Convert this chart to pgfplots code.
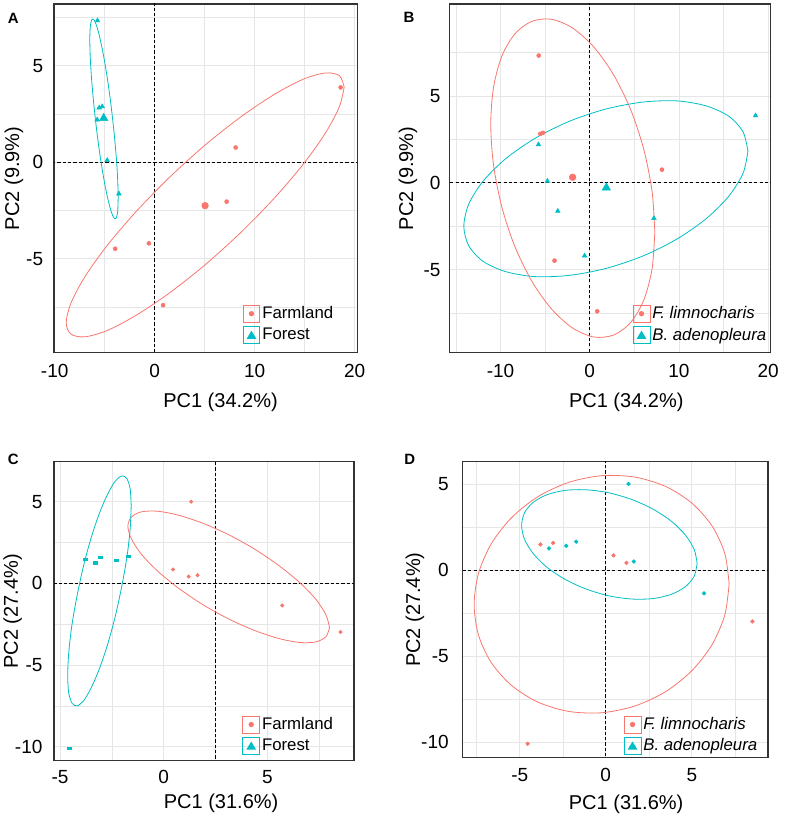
\documentclass[border=0pt]{standalone}
\usepackage{fontspec}
\setmainfont{Liberation Sans}
\usepackage{pgfplots}
\pgfplotsset{compat=1.18}
\definecolor{cRed}{HTML}{F8766D}
\definecolor{cTeal}{HTML}{00BFC4}
\definecolor{gridc}{HTML}{E6E6E6}
\pgfplotsset{
  pca/.style={scale only axis, anchor=north west, grid=both,
    major tick length=0pt, minor tick length=0pt,
    axis line style={draw=black!80, line width=0.8pt},
    major grid style={draw=gridc, line width=0.6pt},
    minor grid style={draw=gridc, line width=0.35pt},
    ticklabel style={font=\fontsize{14.25}{16}\selectfont},
    xticklabel style={anchor=base},
    yticklabel style={anchor=east, inner sep=0pt},
    label style={font=\fontsize{15}{18}\selectfont},
    xlabel style={anchor=base},
    ylabel style={anchor=center},
    legend cell align=left,
    legend style={draw=none, fill=none, inner sep=0pt, outer sep=0pt, row sep=2.8pt,
      nodes={inner sep=0pt}, font=\fontsize{12.6}{15}\selectfont, anchor=north west},
  },
  ell/.style={forget plot, smooth, line width=0.6pt, mark=none},
  dsh/.style={forget plot, black, line width=0.6pt, dash pattern=on 2.4pt off 1.6pt},
  redkey/.style={legend image code/.code={%
    \draw[draw=cRed, fill=none, solid, line width=0.6pt, mark=none] (0pt,-6.3pt) rectangle (12.6pt,6.3pt);
    \fill[fill=cRed, draw=none, mark=none] (6.3pt,0pt) circle (2pt);
    \path[draw=none, fill=none, mark=none] (0pt,0pt) -- (14.4pt,0pt);}},
  tealkey/.style={legend image code/.code={%
    \draw[draw=cTeal, fill=none, solid, line width=0.6pt, mark=none] (0pt,-6.3pt) rectangle (12.6pt,6.3pt);
    \fill[fill=cTeal, draw=none, mark=none] (6.3pt,3.3pt) -- (10pt,-2.9pt) -- (2.6pt,-2.9pt) -- cycle;
    \path[draw=none, fill=none, mark=none] (0pt,0pt) -- (14.4pt,0pt);}},
}
\begin{document}
\begin{tikzpicture}
\path[use as bounding box] (0,0) rectangle (589.5pt,-612pt);

% ---------------- Panel A ----------------
\begin{axis}[pca, at={(40.5pt,-3pt)}, width=227.5pt, height=261.5pt,
  xmin=-10.07, xmax=20.27, ymin=-9.86, ymax=8.19,
  xtick={-10,0,10,20}, xticklabels={-10,0,10,20}, minor xtick={-5,5,15},
  ytick={-5,0,5}, yticklabels={-5,0,5}, minor ytick={-7.5,-2.5,2.5,7.5},
  xticklabel style={yshift=-19pt}, yticklabel style={xshift=-8pt},
  xlabel={PC1 (34.2\%)}, ylabel={PC2 (9.9\%)},
  xlabel style={at={(axis description cs:0.549,-0.1586)}},
  ylabel style={at={(axis description cs:-0.132,0.5)}},
  legend style={at={(0.622,0.137)}}]
\addplot[dsh] coordinates {(0,-30) (0,30)};
\addplot[dsh] coordinates {(-30,0) (30,0)};
\addplot[ell, cRed] coordinates {(18.95,3.89) (18.48,4.48) (17.09,4.62) (14.88,4.30) (12.0,3.52) (8.65,2.36) (5.05,0.89) (1.45,-0.80) (-1.90,-2.58) (-4.78,-4.33) (-6.99,-5.94) (-8.38,-7.30) (-8.85,-8.31) (-8.38,-8.90) (-6.99,-9.04) (-4.78,-8.72) (-1.90,-7.94) (1.45,-6.78) (5.05,-5.31) (8.65,-3.62) (12.0,-1.84) (14.88,-0.09) (17.09,1.52) (18.48,2.88) (18.95,3.89)};
\addplot[ell, cTeal] coordinates {(-3.65,-1.86) (-3.70,-0.91) (-3.84,0.26) (-4.07,1.57) (-4.36,2.92) (-4.70,4.22) (-5.07,5.39) (-5.44,6.34) (-5.78,7.02) (-6.07,7.37) (-6.30,7.37) (-6.44,7.02) (-6.49,6.34) (-6.44,5.39) (-6.30,4.22) (-6.07,2.91) (-5.78,1.56) (-5.44,0.26) (-5.07,-0.91) (-4.70,-1.86) (-4.36,-2.54) (-4.07,-2.89) (-3.84,-2.89) (-3.70,-2.54) (-3.65,-1.86)};
\addplot[forget plot, only marks, mark=*, mark size=1.5pt, cRed] coordinates {(18.6,3.87) (8.1,0.76) (7.2,-2.04) (-0.58,-4.2) (-3.95,-4.48) (0.84,-7.4)};
\addplot[forget plot, only marks, mark=*, mark size=2.5pt, cRed] coordinates {(5.04,-2.25)};
\addplot[forget plot, only marks, mark=triangle*, mark size=2pt, cTeal] coordinates {(-5.72,7.33) (-5.55,2.82) (-5.25,2.88) (-5.75,2.2) (-4.75,0.1) (-3.58,-1.63)};
\addplot[forget plot, only marks, mark=triangle*, mark size=3.6pt, cTeal] coordinates {(-5.1,2.28)};
\addlegendimage{redkey}\addlegendentry{Farmland}
\addlegendimage{tealkey}\addlegendentry{Forest}
\end{axis}

% ---------------- Panel B ----------------
\begin{axis}[pca, at={(337.3pt,-3pt)}, width=240.75pt, height=261.5pt,
  xmin=-15.7, xmax=20.3, ymin=-9.78, ymax=10.3,
  xtick={-10,0,10,20}, xticklabels={-10,0,10,20}, minor xtick={-15,-5,5,15},
  ytick={-5,0,5}, yticklabels={-5,0,5}, minor ytick={-7.5,-2.5,2.5,7.5},
  xticklabel style={yshift=-18.75pt}, yticklabel style={xshift=-6.75pt},
  xlabel={PC1 (34.2\%)}, ylabel={PC2 (9.9\%)},
  xlabel style={at={(axis description cs:0.550,-0.1586)}},
  ylabel style={at={(axis description cs:-0.130,0.5)}},
  legend style={at={(0.570,0.137)}}]
\addplot[dsh] coordinates {(0,-30) (0,30)};
\addplot[dsh] coordinates {(-30,0) (30,0)};
\addplot[ell, cRed] coordinates {(7.30,-2.83) (6.99,-0.49) (6.07,1.91) (4.61,4.19) (2.70,6.20) (0.48,7.81) (-1.90,8.91) (-4.28,9.42) (-6.50,9.30) (-8.41,8.57) (-9.87,7.28) (-10.79,5.50) (-11.10,3.37) (-10.79,1.03) (-9.87,-1.37) (-8.41,-3.65) (-6.50,-5.66) (-4.28,-7.27) (-1.90,-8.37) (0.48,-8.88) (2.70,-8.76) (4.61,-8.03) (6.07,-6.74) (6.99,-4.96) (7.30,-2.83)};
\addplot[ell, cTeal] coordinates {(17.74,1.82) (17.20,2.93) (15.61,3.83) (13.07,4.43) (9.78,4.72) (5.93,4.65) (1.81,4.25) (-2.31,3.54) (-6.15,2.56) (-9.45,1.38) (-11.99,0.08) (-13.58,-1.24) (-14.12,-2.50) (-13.58,-3.61) (-11.99,-4.51) (-9.45,-5.11) (-6.16,-5.40) (-2.31,-5.33) (1.81,-4.93) (5.93,-4.22) (9.77,-3.24) (13.07,-2.06) (15.61,-0.76) (17.20,0.56) (17.74,1.82)};
\addplot[forget plot, only marks, mark=*, mark size=1.5pt, cRed] coordinates {(8.1,0.76) (-3.95,-4.48) (0.84,-7.4) (-5.72,7.33) (-5.55,2.82) (-5.25,2.88)};
\addplot[forget plot, only marks, mark=*, mark size=2.5pt, cRed] coordinates {(-1.92,0.32)};
\addplot[forget plot, only marks, mark=triangle*, mark size=2pt, cTeal] coordinates {(18.6,3.87) (7.2,-2.04) (-0.58,-4.2) (-5.75,2.2) (-4.75,0.1) (-3.58,-1.63)};
\addplot[forget plot, only marks, mark=triangle*, mark size=3.6pt, cTeal] coordinates {(1.86,-0.28)};
\addlegendimage{redkey}\addlegendentry{\textit{F. limnocharis}}
\addlegendimage{tealkey}\addlegendentry{\textit{B. adenopleura}}
\end{axis}

% ---------------- Panel C ----------------
\begin{axis}[pca, at={(40.5pt,-346.3pt)}, width=225pt, height=224.25pt,
  xmin=-5.29, xmax=9.17, ymin=-10.86, ymax=7.45,
  xtick={-5,0,5}, xticklabels={-5,0,5}, minor xtick={-2.5,2.5,7.5},
  ytick={-10,-5,0,5}, yticklabels={-10,-5,0,5}, minor ytick={-7.5,-2.5,2.5},
  xticklabel style={yshift=-17pt}, yticklabel style={xshift=-8.5pt},
  xlabel={PC1 (31.6\%)}, ylabel={PC2 (27.4\%)},
  xlabel style={at={(axis description cs:0.557,-0.161)}},
  ylabel style={at={(axis description cs:-0.138,0.5)}},
  legend style={at={(0.628,0.1505)}}]
\addplot[dsh] coordinates {(2.5,-30) (2.5,30)};
\addplot[dsh] coordinates {(-30,0) (30,0)};
\addplot[ell, cRed] coordinates {(7.99,-2.70) (7.82,-1.93) (7.34,-0.99) (6.57,0.03) (5.56,1.08) (4.39,2.09) (3.13,2.98) (1.87,3.69) (0.70,4.18) (-0.31,4.42) (-1.08,4.38) (-1.56,4.06) (-1.73,3.50) (-1.56,2.73) (-1.08,1.79) (-0.31,0.77) (0.70,-0.28) (1.87,-1.29) (3.13,-2.18) (4.39,-2.89) (5.56,-3.38) (6.57,-3.62) (7.34,-3.58) (7.82,-3.26) (7.99,-2.70)};
\addplot[ell, cTeal] coordinates {(-1.57,4.74) (-1.62,5.79) (-1.78,6.42) (-2.02,6.58) (-2.34,6.26) (-2.70,5.48) (-3.10,4.30) (-3.50,2.79) (-3.87,1.06) (-4.18,-0.77) (-4.43,-2.58) (-4.58,-4.25) (-4.63,-5.66) (-4.58,-6.71) (-4.42,-7.34) (-4.18,-7.50) (-3.86,-7.18) (-3.50,-6.40) (-3.10,-5.22) (-2.70,-3.71) (-2.33,-1.98) (-2.02,-0.15) (-1.77,1.66) (-1.62,3.33) (-1.57,4.74)};
\addplot[forget plot, only marks, mark=*, mark size=1.3pt, cRed] coordinates {(1.32,5.0) (0.45,0.85) (1.2,0.42) (1.63,0.5) (5.71,-1.35) (8.52,-2.98)};
\addplot[forget plot, only marks, mark=square*, mark size=1.05pt, mark options={xscale=1.35, yscale=0.8}, cTeal] coordinates {(-3.8,1.49) (-3.3,1.26) (-3.06,1.58) (-2.3,1.41) (-1.72,1.65) (-4.54,-10.08)};
\addlegendimage{redkey}\addlegendentry{Farmland}
\addlegendimage{tealkey}\addlegendentry{Forest}
\end{axis}

% ---------------- Panel D ----------------
\begin{axis}[pca, at={(346.7pt,-346.3pt)}, width=229.3pt, height=222pt,
  xmin=-8.34, xmax=9.43, ymin=-10.89, ymax=6.29,
  xtick={-5,0,5}, xticklabels={-5,0,5}, minor xtick={-7.5,-2.5,2.5,7.5},
  ytick={-10,-5,0,5}, yticklabels={-10,-5,0,5}, minor ytick={-7.5,-2.5,2.5},
  xticklabel style={yshift=-18pt}, yticklabel style={xshift=-10pt},
  xlabel={PC1 (31.6\%)}, ylabel={PC2 (27.4\%)},
  xlabel style={at={(axis description cs:0.536,-0.174)}},
  ylabel style={at={(axis description cs:-0.155,0.5)}},
  legend style={at={(0.528,0.142)}}]
\addplot[dsh] coordinates {(0,-30) (0,30)};
\addplot[dsh] coordinates {(-30,0) (30,0)};
\addplot[ell, cRed] coordinates {(7.17,-0.80) (6.92,0.96) (6.18,2.56) (5.00,3.89) (3.47,4.86) (1.68,5.40) (-0.24,5.48) (-2.16,5.09) (-3.95,4.26) (-5.48,3.04) (-6.66,1.52) (-7.40,-0.20) (-7.65,-2.00) (-7.40,-3.76) (-6.66,-5.36) (-5.48,-6.69) (-3.95,-7.66) (-2.16,-8.20) (-0.24,-8.28) (1.68,-7.89) (3.47,-7.06) (5.00,-5.84) (6.18,-4.32) (6.92,-2.60) (7.17,-0.80)};
\addplot[ell, cTeal] coordinates {(5.31,0.39) (5.14,1.20) (4.63,2.03) (3.82,2.83) (2.76,3.53) (1.53,4.09) (0.21,4.48) (-1.11,4.66) (-2.34,4.63) (-3.40,4.38) (-4.21,3.94) (-4.72,3.33) (-4.89,2.59) (-4.72,1.78) (-4.21,0.95) (-3.40,0.15) (-2.34,-0.55) (-1.11,-1.11) (0.21,-1.50) (1.53,-1.68) (2.76,-1.65) (3.82,-1.40) (4.63,-0.96) (5.14,-0.35) (5.31,0.39)};
\addplot[forget plot, only marks, mark=*, mark size=1.4pt, cRed] coordinates {(0.45,0.85) (1.2,0.42) (8.52,-2.98) (-3.8,1.49) (-3.06,1.58) (-4.54,-10.08)};
\addplot[forget plot, only marks, mark=*, mark size=1.4pt, cTeal] coordinates {(1.32,5.0) (1.63,0.5) (5.71,-1.35) (-3.3,1.26) (-2.3,1.41) (-1.72,1.65)};
\addlegendimage{redkey}\addlegendentry{\textit{F. limnocharis}}
\addlegendimage{tealkey}\addlegendentry{\textit{B. adenopleura}}
\end{axis}

\node[font=\bfseries\fontsize{11.2}{13}\selectfont, anchor=center] at (9.98pt,-13.5pt) {A};
\node[font=\bfseries\fontsize{11.2}{13}\selectfont, anchor=center] at (306.75pt,-13.1pt) {B};
\node[font=\bfseries\fontsize{11.2}{13}\selectfont, anchor=center] at (9.98pt,-344.25pt) {C};
\node[font=\bfseries\fontsize{11.2}{13}\selectfont, anchor=center] at (307.3pt,-344.25pt) {D};
\end{tikzpicture}
\end{document}
